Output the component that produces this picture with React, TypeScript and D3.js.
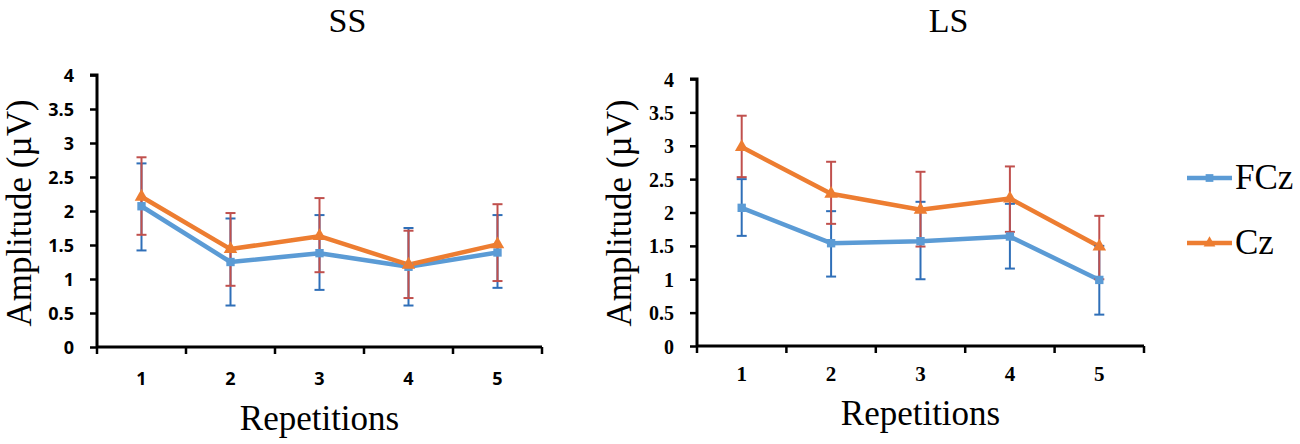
import React, { useEffect, useRef } from 'react'
import * as d3 from 'd3'

const reps = ['1', '2', '3', '4', '5']
const yTicks = [0, 0.5, 1, 1.5, 2, 2.5, 3, 3.5, 4]

// SS panel
const ssFCz = [2.07, 1.25, 1.38, 1.18, 1.39]
const ssFCzHi = [2.7, 1.89, 1.94, 1.75, 1.94]
const ssFCzLo = [1.42, 0.61, 0.84, 0.61, 0.87]
const ssCz = [2.21, 1.44, 1.63, 1.21, 1.51]
const ssCzHi = [2.79, 1.97, 2.19, 1.71, 2.1]
const ssCzLo = [1.65, 0.9, 1.1, 0.72, 0.97]

// LS panel
const lsFCz = [2.07, 1.54, 1.57, 1.64, 0.99]
const lsFCzHi = [2.5, 2.02, 2.16, 2.13, 1.5]
const lsFCzLo = [1.65, 1.04, 1.0, 1.16, 0.47]
const lsCz = [2.98, 2.28, 2.04, 2.21, 1.49]
const lsCzHi = [3.45, 2.76, 2.61, 2.69, 1.95]
const lsCzLo = [2.53, 1.83, 1.49, 1.71, 1.0]

const BLUE = '#5b9bd5'
const ORANGE = '#ed7d31'
const BLUE_ERR = '#2f6fb8'
const RED_ERR = '#c0504d'

type Series = { name: string; v: number[]; hi: number[]; lo: number[]; color: string; err: string; shape: 'square' | 'triangle' }

type Panel = {
  title: string
  x0: number
  x1: number
  yTop: number
  yBot: number
  tickFont: string
  yTickSize: number
  xTickSize: number
  xTickY: number
  xTitleY: number
  yTitleX: number
  series: Series[]
}

const serif = '"Liberation Serif", "Times New Roman", serif'

const panels: Panel[] = [
  {
    title: 'SS', x0: 97, x1: 542, yTop: 75, yBot: 347,
    tickFont: '"Open Sans", "Liberation Sans", sans-serif',
    yTickSize: 18, xTickSize: 18, xTickY: 385, xTitleY: 430, yTitleX: 31,
    series: [
      { name: 'FCz', v: ssFCz, hi: ssFCzHi, lo: ssFCzLo, color: BLUE, err: BLUE_ERR, shape: 'square' },
      { name: 'Cz', v: ssCz, hi: ssCzHi, lo: ssCzLo, color: ORANGE, err: RED_ERR, shape: 'triangle' },
    ],
  },
  {
    title: 'LS', x0: 697, x1: 1144, yTop: 79, yBot: 346,
    tickFont: serif,
    yTickSize: 20, xTickSize: 21, xTickY: 381, xTitleY: 425, yTitleX: 631,
    series: [
      { name: 'FCz', v: lsFCz, hi: lsFCzHi, lo: lsFCzLo, color: BLUE, err: BLUE_ERR, shape: 'square' },
      { name: 'Cz', v: lsCz, hi: lsCzHi, lo: lsCzLo, color: ORANGE, err: RED_ERR, shape: 'triangle' },
    ],
  },
]

export default function App() {
  const ref = useRef<SVGSVGElement | null>(null)

  useEffect(() => {
    if (!ref.current) return
    const svg = d3.select(ref.current)
    svg.selectAll('*').remove()

    panels.forEach((p) => {
      const x = d3.scaleBand<string>().domain(reps).range([p.x0, p.x1]).padding(0)
      const y = d3.scaleLinear().domain([0, 4]).range([p.yBot, p.yTop])
      const cx = (i: number) => (x(reps[i]) as number) + x.bandwidth() / 2
      const g = svg.append('g')

      // panel title (sits a bit right of the plot centre)
      g.append('text')
        .attr('x', (p.x0 + p.x1) / 2 + 28)
        .attr('y', 32)
        .attr('text-anchor', 'middle')
        .style('font-family', serif)
        .style('font-size', '34px')
        .text(p.title)

      // y axis
      const yAxis = g.append('g')
        .attr('transform', `translate(${p.x0},0)`)
        .call(d3.axisLeft(y).tickValues(yTicks).tickSize(7).tickFormat((d) => String(d)))
      yAxis.select('.domain').attr('stroke', '#000').attr('stroke-width', 3).attr('d', `M-7,${p.yTop}H0V${p.yBot}`)
      yAxis.selectAll('line').attr('stroke', '#000').attr('stroke-width', 2.5)
      yAxis.selectAll('text')
        .attr('x', -23)
        .attr('dy', '0.35em')
        .style('font-family', p.tickFont)
        .style('font-weight', 'bold')
        .style('font-size', `${p.yTickSize}px`)
        .attr('fill', '#000')

      // x axis
      const xAxis = g.append('g').attr('transform', `translate(0,${p.yBot})`)
      xAxis.append('line')
        .attr('x1', p.x0).attr('x2', p.x1)
        .attr('stroke', '#000').attr('stroke-width', 3)
      const bounds = reps.map((r) => x(r) as number).concat([p.x1])
      xAxis.selectAll('line.tk').data(bounds).join('line')
        .attr('class', 'tk')
        .attr('x1', (d) => d).attr('x2', (d) => d)
        .attr('y1', 0).attr('y2', 7)
        .attr('stroke', '#000').attr('stroke-width', 2.5)
      g.append('g').selectAll('text').data(reps).join('text')
        .attr('x', (d) => (x(d) as number) + x.bandwidth() / 2)
        .attr('y', p.xTickY)
        .attr('text-anchor', 'middle')
        .style('font-family', p.tickFont)
        .style('font-weight', 'bold')
        .style('font-size', `${p.xTickSize}px`)
        .text((d) => d)

      // axis titles
      g.append('text')
        .attr('x', (p.x0 + p.x1) / 2)
        .attr('y', p.xTitleY)
        .attr('text-anchor', 'middle')
        .style('font-family', serif)
        .style('font-size', '35px')
        .text('Repetitions')
      g.append('text')
        .attr('transform', `translate(${p.yTitleX},213) rotate(-90)`)
        .attr('text-anchor', 'middle')
        .style('font-family', serif)
        .style('font-size', '35px')
        .text('Amplitude (\u00b5V)')

      const line = d3.line<number>().x((_, i) => cx(i)).y((d) => y(d))

      p.series.forEach((s) => {
        g.append('path')
          .attr('d', line(s.v))
          .attr('fill', 'none')
          .attr('stroke', s.color)
          .attr('stroke-width', 4.5)
          .attr('stroke-linejoin', 'round')
      })

      p.series.forEach((s) => {
        const eg = g.append('g').attr('stroke', s.err).attr('stroke-width', 2)
        s.v.forEach((_, i) => {
          const c = cx(i)
          eg.append('line').attr('x1', c).attr('x2', c).attr('y1', y(s.lo[i])).attr('y2', y(s.hi[i]))
          eg.append('line').attr('x1', c - 5).attr('x2', c + 5).attr('y1', y(s.lo[i])).attr('y2', y(s.lo[i]))
          eg.append('line').attr('x1', c - 5).attr('x2', c + 5).attr('y1', y(s.hi[i])).attr('y2', y(s.hi[i]))
        })
      })

      p.series.forEach((s) => {
        const sym = d3.symbol().type(s.shape === 'square' ? d3.symbolSquare : d3.symbolTriangle).size(s.shape === 'square' ? 70 : 80)
        g.append('g').selectAll('path').data(s.v).join('path')
          .attr('transform', (d, i) => `translate(${cx(i)},${y(d)})`)
          .attr('d', sym())
          .attr('fill', s.color)
      })
    })

    // legend
    const legend = svg.append('g').attr('transform', 'translate(1187,0)')
    const items = [
      { name: 'FCz', color: BLUE, shape: d3.symbolSquare, y: 178 },
      { name: 'Cz', color: ORANGE, shape: d3.symbolTriangle, y: 243 },
    ]
    items.forEach((it) => {
      legend.append('line')
        .attr('x1', 0).attr('x2', 45).attr('y1', it.y).attr('y2', it.y)
        .attr('stroke', it.color).attr('stroke-width', 4.5)
      legend.append('path')
        .attr('transform', `translate(22.5,${it.y})`)
        .attr('d', d3.symbol().type(it.shape).size(60)())
        .attr('fill', it.color)
      legend.append('text')
        .attr('x', 48).attr('y', it.y + 11)
        .style('font-family', serif)
        .style('font-size', '35px')
        .text(it.name)
    })
  }, [])

  return (
    <svg
      ref={ref}
      width={1300}
      height={444}
      style={{ position: 'absolute', left: 0, top: 0, background: '#fff' }}
    />
  )
}
